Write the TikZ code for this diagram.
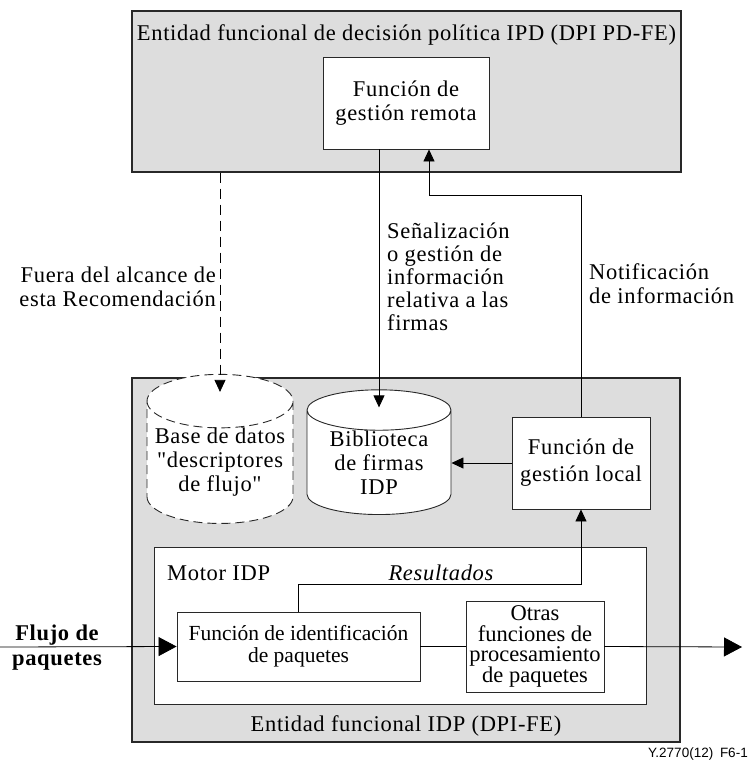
\documentclass[tikz,border=0pt]{standalone}
\usepackage{fontspec}
\setmainfont{Liberation Serif}
\setsansfont{Liberation Sans}
\newfontfamily\spacedrm[LetterSpace=3]{Liberation Serif}
\usetikzlibrary{arrows.meta,positioning,shapes.geometric}
\definecolor{fegray}{RGB}{221,221,221}
\definecolor{edge}{RGB}{40,40,40}
\newcommand{\dpifont}{\spacedrm\fontsize{22.5}{24}\selectfont}
\newcommand{\dpitight}{\rmfamily\fontsize{22.5}{20.5}\selectfont}

\begin{document}
\begin{tikzpicture}[x=1pt,y=-1pt,
    entity/.style={draw=edge, fill=fegray, line width=1.1pt, inner sep=0pt},
    func/.style={draw=edge, fill=white, line width=0.9pt, align=center, inner sep=0pt, font=\dpifont},
    store/.style={cylinder, shape border rotate=90, aspect=0.41, draw=edge, fill=white,
                  line width=0.9pt, align=center, inner sep=0pt, font=\dpifont},
    txt/.style={inner sep=0pt, font=\dpifont},
    arr/.style={-{Triangle[length=12pt,width=11pt]}, line width=0.8pt},
    bigarr/.style={-{Triangle[length=18pt,width=19pt]}, line width=0.8pt}]
  \useasboundingbox (0,0) rectangle (748,763);

  % policy decision entity
  \node[entity, minimum width=549pt, minimum height=161pt] (pdfe) at (406.5,91.5) {};
  \node[txt, anchor=base] (pdtitle) at (406.5,40) {Entidad funcional de decisión política IPD (DPI PD-FE)};
  \node[func, minimum width=166pt, minimum height=92pt] (remote) at (406,103) {Función de\\gestión remota};

  % DPI functional entity
  \node[entity, minimum width=548pt, minimum height=364pt] (fe) at (406,560) {};
  \node[txt, anchor=base] (fetitle) at (406,731) {Entidad funcional IDP (DPI-FE)};
  \node[store, dashed, dash pattern=on 9pt off 5pt, minimum width=146pt, minimum height=121pt] (db) at (220,462.5)
       {Base de datos\\"descriptores\\de flujo"};
  \node[store, minimum width=144pt, minimum height=121pt] (lib) at (379,462.5) {Biblioteca\\de firmas\\IDP};
  \node[func, font=\fontsize{22.5}{27}\spacedrm, minimum width=138pt, minimum height=92pt] (local) at (581,463)
       {Función de\\gestión local};

  % DPI engine
  \node[func, minimum width=492pt, minimum height=157pt] (engine) at (400,625.5) {};
  \node[txt, anchor=base west] (enginetitle) at (167,580) {Motor IDP};
  \node[func, font=\fontsize{21.5}{22}\rmfamily, minimum width=243pt, minimum height=69pt] (ident) at (298.5,646.5)
       {Función de identificación\\de paquetes};
  \node[func, font=\dpitight, minimum width=138pt, minimum height=91pt] (other) at (535,646.5)
       {Otras\\funciones de\\procesamiento\\de paquetes};

  % free labels
  \node[txt, align=right, anchor=north east] (scope) at (216,267) {Fuera del alcance de\\esta Recomendación};
  \node[txt, font=\spacedrm\fontsize{22.5}{23}\selectfont, align=left, anchor=north west] (signal) at (387,223)
       {Señalización\\o gestión de\\información\\relativa a las\\firmas};
  \node[txt, align=left, anchor=north west] (notify) at (589,263) {Notificación\\de información};
  \node[txt, anchor=base] (results) at (441,580) {\itshape Resultados};
  \node[txt, font=\bfseries\fontsize{22.5}{25}\spacedrm, align=center, anchor=north] (flow) at (57,625) {Flujo de\\paquetes};
  \node[inner sep=0pt, anchor=base west, font=\sffamily\fontsize{13.5}{15}\selectfont] (figno) at (648,757)
       {Y.2770(12)\enspace F6-1};

  % connectors
  \coordinate (notifcorner) at (429,195);
  \coordinate (pktin) at (0,647);
  \coordinate (pktout) at (742,647);
  \draw[arr, dashed, dash pattern=on 10pt off 6pt] (pdfe.south -| db.north) -- ([yshift=-18pt]db.north);
  \draw[arr] (remote.south -| lib.north) -- ([yshift=-18pt]lib.north);
  \draw[arr] (local.north) |- (notifcorner) -- (notifcorner |- remote.south);
  \draw[arr] (local.west) -- (local.west -| lib.east);
  \draw[arr] (ident.north) -- ++(0,-27) -| (local.south);
  \draw[bigarr] (pktin) -- (ident.west);
  \draw (ident.east) -- (other.west);
  \draw[bigarr] (other.east) -- (pktout);
\end{tikzpicture}
\end{document}
